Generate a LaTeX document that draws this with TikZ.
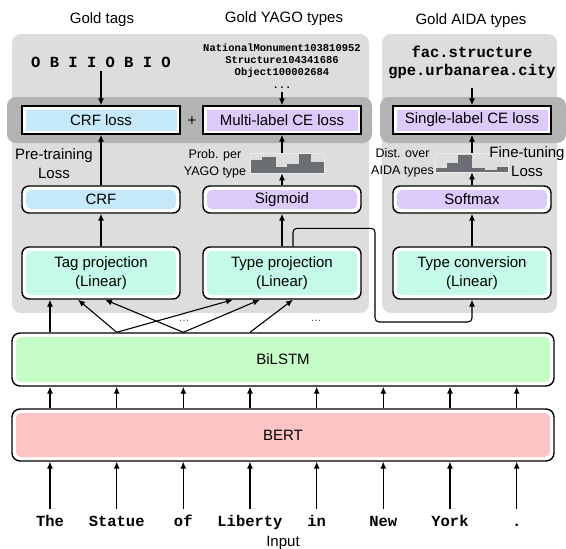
\documentclass[tikz,border=0pt]{standalone}
\usepackage{fontspec}
\setmainfont{Liberation Sans}
\setmonofont{Liberation Mono}
\usetikzlibrary{arrows.meta}
\definecolor{panelc}{HTML}{DDDDDD}
\definecolor{bandc}{HTML}{B3B3B3}
\definecolor{cblue}{HTML}{C6E9FA}
\definecolor{cpurple}{HTML}{DCCAFA}
\definecolor{cmint}{HTML}{C4FAE6}
\definecolor{cgreen}{HTML}{C6FCC6}
\definecolor{cpink}{HTML}{FCC4C4}
\definecolor{histc}{HTML}{6B6E73}
\newcommand{\myfs}{\fontsize{15}{19}\selectfont}
\newcommand{\mysm}{\fontsize{12.5}{17}\selectfont}
\newcommand{\mymono}{\ttfamily\bfseries\fontsize{15.5}{18}\selectfont}
\newcommand{\mytiny}{\ttfamily\bfseries\fontsize{10.5}{12.3}\selectfont}
\begin{document}
\begin{tikzpicture}[x=1pt,y=-1pt,font=\myfs,
  arr/.style={-{Latex[length=7pt,width=6pt]}, line width=1.1pt},
  lossbox/.style={draw, line width=1.4pt, fill=white, minimum width=158pt, minimum height=28pt, inner sep=0pt,
    path picture={\fill[#1] ([shift={(3.5pt,3.5pt)}]path picture bounding box.south west) rectangle ([shift={(-3.5pt,-3.5pt)}]path picture bounding box.north east);}},
  rbox/.style={draw, line width=1.4pt, fill=white, rounded corners=7pt, minimum width=158pt, minimum height=27pt, inner sep=0pt, align=center,
    path picture={\fill[#1, rounded corners=5pt] ([shift={(4pt,4pt)}]path picture bounding box.south west) rectangle ([shift={(-4pt,-4pt)}]path picture bounding box.north east);}},
  word/.style={font=\mymono, text height=11pt, text depth=3pt, inner ysep=6pt, inner xsep=0pt},
  hbox/.style={draw=white!85!gray, line width=0.7pt, inner sep=0pt}
]
\useasboundingbox (0,0) rectangle (566,549);

% panels and bands
\fill[panelc, rounded corners=9pt] (12,34) rectangle (369,313);
\fill[panelc, rounded corners=9pt] (382,34) rectangle (557,313);
\fill[bandc, rounded corners=9pt] (7,97) rectangle (372,143);
\fill[bandc, rounded corners=9pt] (380,97) rectangle (566,143);

% titles
\node (t1) at (102,20) {Gold tags};
\node (t2) at (284,19) {Gold YAGO types};
\node (t3) at (471,21) {Gold AIDA types};

% gold labels
\node[font=\mymono] (tags) at (101,62) {O B I I O B I O};
\node[font=\mytiny, align=center] (yago) at (282,66) {NationalMonument103810952\\Structure104341686\\Object100002684\\...};
\node[font=\mymono, align=center] (aida) at (472,62) {fac.structure\\gpe.urbanarea.city};

% loss boxes
\node[lossbox=cblue] (crfloss) at (101,120) {CRF loss};
\node[lossbox=cpurple] (mlloss) at (282,120) {Multi-label CE loss};
\node[lossbox=cpurple] (slloss) at (472,120) {Single-label CE loss};
\node (plus) at (192,121) {+};

% output layers
\node[rbox=cblue] (crf) at (101,199.5) {CRF};
\node[rbox=cpurple] (sig) at (282,199.5) {Sigmoid};
\node[rbox=cpurple] (soft) at (472,199.5) {Softmax};

% projections
\node[rbox=cmint, minimum height=52pt] (tagp) at (101,273) {Tag projection\\(Linear)};
\node[rbox=cmint, minimum height=52pt] (typep) at (282,273) {Type projection\\(Linear)};
\node[rbox=cmint, minimum height=52pt] (conv) at (472,273) {Type conversion\\(Linear)};

% encoder
\node[rbox=cgreen, minimum width=542pt, minimum height=53pt, rounded corners=8pt] (bilstm) at (283,359.5) {BiLSTM};
\node[rbox=cpink, minimum width=542pt, minimum height=52pt, rounded corners=8pt] (bert) at (283,435) {BERT};

% histograms
\foreach \a/\b/\t in {250/262/160, 262/276/157, 276/287/167, 287/299/164, 299/311/153, 311/324/162}
  \fill[histc] (\a,\t) rectangle (\b,173);
\node[hbox, minimum width=74pt, minimum height=20pt] (yh) at (287,163) {};
\foreach \a/\b/\t in {435/447/168, 447/458/163, 458/472/155, 472/485/168, 485/497/170, 497/508/167}
  \fill[histc] (\a,\t) rectangle (\b,172);
\node[hbox, minimum width=73pt, minimum height=19pt] (ah) at (471.5,162.5) {};

% side labels
\node[font=\mysm, align=center] (ppt) at (215,164) {Prob. per\\YAGO type};
\node[font=\mysm, align=center] (dist) at (402.5,163) {Dist. over\\AIDA types};
\node[align=center] (ftl) at (527,162) {Fine-tuning\\Loss};
\node[align=center] (ptl) at (54,164) {Pre-training\\Loss};

% top arrows
\draw[arr] (tags.south) -- (crfloss.north);
\draw[arr] (yago.south) -- (mlloss.north);
\draw[arr] ([yshift=-6pt]aida.south) -- (slloss.north);
\draw[arr] (crf.north) -- (crfloss.south);
\draw[arr] (sig.north) -- (sig.north |- yh.south);
\draw[arr] (sig.north |- yh.north) -- (mlloss.south);
\draw[arr] (soft.north) -- (soft.north |- ah.south);
\draw[arr] (soft.north |- ah.north) -- (slloss.south);
\draw[arr] (tagp.north) -- (crf.south);
\draw[arr] (typep.north) -- (sig.south);
\draw[arr] (conv.north) -- (soft.south);

% connector type projection -> type conversion
\draw[arr, rounded corners=4pt] ([xshift=11pt]typep.north) -- ++(0,-18) -| (375,322) -| (conv.south);

% words
\foreach \i/\x/\w in {1/50/The, 2/116.7/Statue, 3/183.3/of, 4/250/Liberty, 5/316.7/in, 6/383.3/New, 7/450/York, 8/516.7/.}
  \node[word] (w\i) at (\x,522) {\w};
\node (inp) at (283,543) {Input};

\foreach \i in {1,...,8} {
  \draw[arr] (w\i.north) -- (w\i |- bert.south);
  \draw[arr] (w\i |- bert.north) -- (w\i |- bilstm.south);
}

% BiLSTM -> projections
\draw[arr] (w1 |- bilstm.north) -- (tagp.south -| w1);
\draw[arr] (w2 |- bilstm.north) -- ([xshift=-23pt]tagp.south);
\draw[arr] (w3 |- bilstm.north) -- ([xshift=4pt]tagp.south);
\draw[arr] (w2 |- bilstm.north) -- ([xshift=-49pt]typep.south);
\draw[arr] (w3 |- bilstm.north) -- ([xshift=-22pt]typep.south);
\draw[arr] (w4 |- bilstm.north) -- ([xshift=11pt]typep.south);
\node[font=\fontsize{11}{12}\selectfont, text=black!70] (d1) at (184,321) {\ldots};
\node[font=\fontsize{11}{12}\selectfont, text=black!70] (d2) at (316,321) {\ldots};
\end{tikzpicture}
\end{document}
